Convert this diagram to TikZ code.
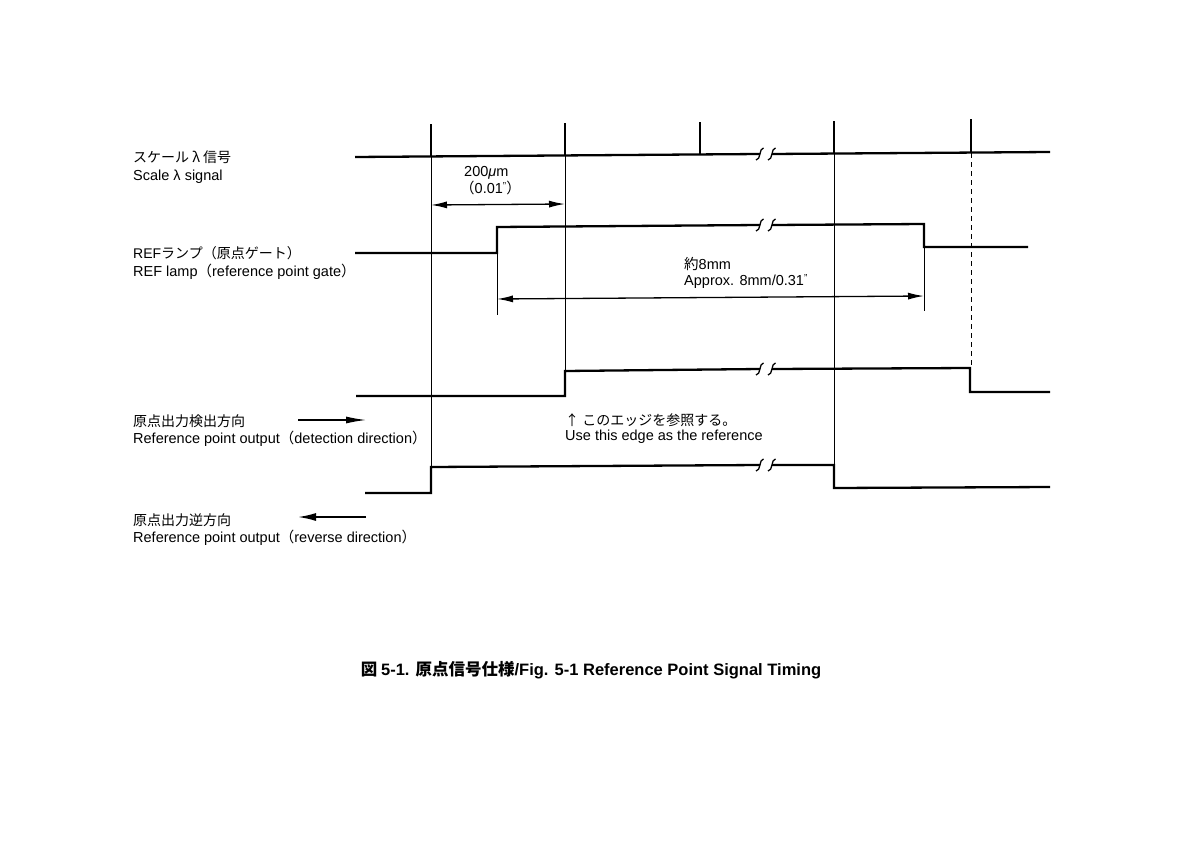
\documentclass[tikz,border=0pt]{standalone}
\usepackage{fontspec}
\setmainfont{Liberation Sans}
\newfontfamily\jp{Noto Sans CJK JP}
\usetikzlibrary{arrows.meta}
\tikzset{
  sig/.style={line width=2.3pt},
  thinline/.style={line width=0.9pt},
  dim/.style={line width=1.3pt,arrows={Latex[length=16pt,width=7pt]-Latex[length=16pt,width=7pt]}},
  pulse/.style={line width=2.8pt},
  lbl/.style={inner sep=0pt,font=\fontsize{14.5}{16}\selectfont},
  jlbl/.style={inner sep=0pt,font=\jp\fontsize{14}{16}\selectfont},
}
\newcommand{\brk}[2]{%
  \draw[line width=1.3pt] (#1-4,#2+6) .. controls (#1+1,#2+6) and (#1-1,#2-6) .. (#1+3.5,#2-6);
  \draw[line width=1.3pt] (#1+8,#2+6) .. controls (#1+13,#2+6) and (#1+11,#2-6) .. (#1+15.5,#2-6);}
\newcommand{\jpp}[1]{{\jp #1}}
\newcommand{\inch}{\raisebox{0.45ex}{\fontsize{10}{10}\selectfont"}}
\begin{document}
\begin{tikzpicture}[x=1pt,y=-1pt]
\useasboundingbox (0,0) rectangle (1190,840);

% ---------- Scale lambda signal ----------
\draw[sig] (355,157) -- (760,154);
\draw[sig] (772,154) -- (1050,152);
\brk{760}{154}
\draw[pulse] (431,157) -- (431,124);
\draw[pulse] (565,156) -- (565,123);
\draw[pulse] (700,155) -- (700,122);
\draw[pulse] (834,154) -- (834,121);
\draw[pulse] (971,153) -- (971,119);

% ---------- REF lamp ----------
\draw[sig] (355,253) -- (497,253) -- (497,227) -- (760,225);
\draw[sig] (772,225) -- (924,224) -- (924,247) -- (1028,247);
\brk{760}{225}

% ---------- detection direction ----------
\draw[sig] (356,396) -- (565,396) -- (565,371) -- (760,369);
\draw[sig] (772,369) -- (970,368) -- (970,392) -- (1050,392);
\brk{760}{369}

% ---------- reverse direction ----------
\draw[sig] (365,493) -- (431,493) -- (431,467) -- (760,465);
\draw[sig] (772,465) -- (834,465) -- (834,488) -- (1050,487);
\brk{760}{465}

% ---------- thin reference lines ----------
\draw[thinline] (431,157) -- (431,467);
\draw[thinline] (565,156) -- (565,371);
\draw[thinline] (834,154) -- (834,465);
\draw[thinline,dash pattern=on 5pt off 4pt] (971,153) -- (971,368);
\draw[thinline] (497,253) -- (497,315);
\draw[thinline] (924,247) -- (924,311);

% ---------- dimensions ----------
\coordinate (d1a) at (431,205);
\coordinate (d1b) at (565,204);
\draw[dim] (d1a) -- (d1b);
\node[lbl,anchor=base west] (t200) at (464,176) {200\textit{μ}m};
\node[lbl,anchor=base west] (t001) at (460,193) {\jpp{（}0.01\inch\jpp{）}};

\coordinate (d2a) at (497,299);
\coordinate (d2b) at (924,296);
\draw[dim] (d2a) -- (d2b);
\node[lbl,anchor=base west] (t8a) at (684,269) {\jpp{約}8mm};
\node[lbl,anchor=base west] (t8b) at (684,285) {Approx. 8mm/0.31\inch};

% ---------- left labels ----------
\node[jlbl,anchor=west] (l1j) at (133,157) {スケール\makebox[1em]{λ}信号};
\node[lbl,anchor=base west] (l1e) at (133,180) {Scale λ signal};

\node[jlbl,anchor=west] (l2j) at (133,253) {{\normalfont REF}ランプ（原点ゲート）};
\node[lbl,anchor=base west] (l2e) at (133,276) {REF lamp\jpp{（}reference point gate\jpp{）}};

\node[jlbl,anchor=west] (l3j) at (133,421) {原点出力検出方向};
\node[lbl,anchor=base west] (l3e) at (133,443) {Reference point output\jpp{（}detection direction\jpp{）}};
\coordinate (a3s) at (298,420);
\coordinate (a3e) at (366,420);
\draw[line width=1.2pt,-{Latex[length=20pt,width=7pt]}] (a3s) -- (a3e);

\node[jlbl,anchor=west] (l4j) at (133,520) {原点出力逆方向};
\node[lbl,anchor=base west] (l4e) at (133,542) {Reference point output\jpp{（}reverse direction\jpp{）}};
\coordinate (a4s) at (366,517);
\coordinate (a4e) at (298,517);
\draw[line width=1.6pt,-{Latex[length=18pt,width=8pt]}] (a4s) -- (a4e);

% ---------- edge note ----------
\node[jlbl,anchor=west] (n1) at (565,420) {↑ このエッジを参照する。};
\node[lbl,anchor=base west] (n2) at (565,440) {Use this edge as the reference};

% ---------- caption ----------
\node[inner sep=0pt,font=\bfseries\fontsize{16.5}{18}\selectfont] (cap) at (591,670)
  {{\jp\bfseries 図 }5-1. {\jp\bfseries 原点信号仕様}/Fig. 5-1 Reference Point Signal Timing};
\end{tikzpicture}
\end{document}
